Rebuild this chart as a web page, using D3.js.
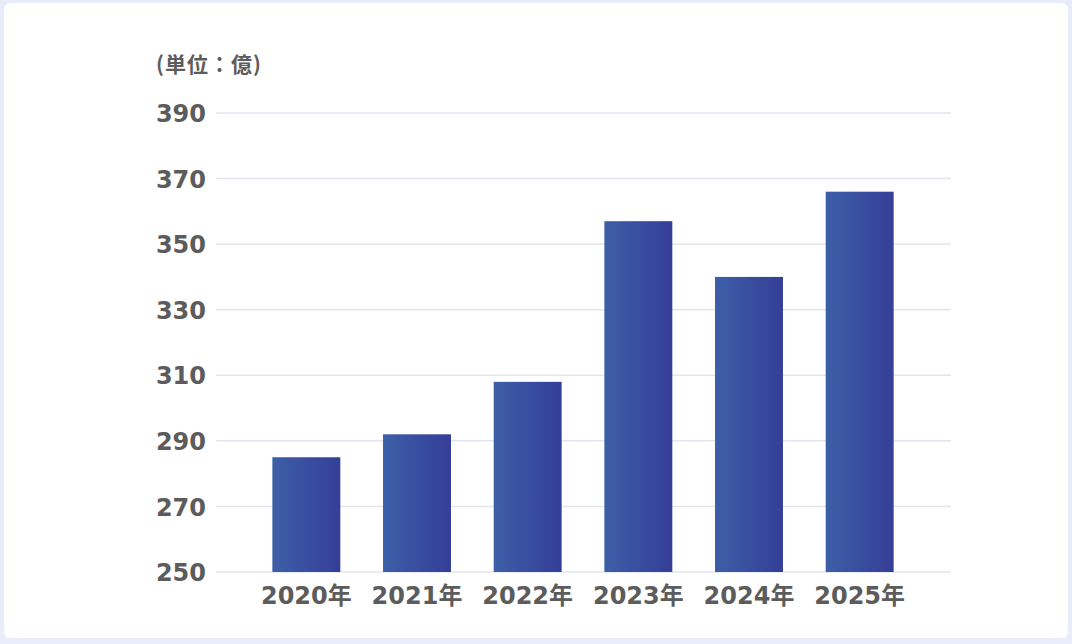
<!DOCTYPE html>
<html>
<head>
<meta charset="utf-8">
<script src="https://d3js.org/d3.v7.min.js"></script>
<style>
  html, body { margin: 0; padding: 0; background: #e9ecfb; }
  svg { display: block; }
  .tick text { font-family: "DejaVu Sans", "Noto Sans CJK JP", sans-serif; font-weight: 700; fill: #5c5c5c; }
</style>
</head>
<body>
<svg id="chart" width="1072" height="644"></svg>
<script>
var years = ["2020年", "2021年", "2022年", "2023年", "2024年", "2025年"];
var values = [285, 292, 308, 357, 340, 366];
var yTicks = [250, 270, 290, 310, 330, 350, 370, 390];
var unitLabel = "(単位：億)";

var svg = d3.select("#chart");

// white card
svg.append("rect").attr("x", 4).attr("y", 3).attr("width", 1064).attr("height", 635)
  .attr("rx", 6).attr("fill", "#ffffff");

var grad = svg.append("defs").append("linearGradient").attr("id", "barGrad")
  .attr("x1", "0%").attr("x2", "100%").attr("y1", "0%").attr("y2", "0%");
grad.append("stop").attr("offset", "0%").attr("stop-color", "#3d5fa7");
grad.append("stop").attr("offset", "100%").attr("stop-color", "#353e98");

var x = d3.scaleBand().domain(years).range([251, 915]).paddingInner(0.386).paddingOuter(0.193);
var y = d3.scaleLinear().domain([250, 390]).range([572, 113]);

// grid lines
svg.append("g").selectAll("line").data(yTicks).enter().append("line")
  .attr("x1", 216).attr("x2", 951)
  .attr("y1", function(d){ return y(d); }).attr("y2", function(d){ return y(d); })
  .attr("stroke", "#e2e6ee").attr("stroke-width", 1.5);

// y axis
var yAxis = svg.append("g").attr("transform", "translate(206,0)")
  .call(d3.axisLeft(y).tickValues(yTicks).tickSize(0).tickPadding(0));
yAxis.select(".domain").remove();
yAxis.selectAll("text").attr("font-size", 24).attr("dy", "0.36em");

// bars
svg.append("g").selectAll("rect").data(values).enter().append("rect")
  .attr("x", function(d, i){ return x(years[i]); })
  .attr("y", function(d){ return y(d); })
  .attr("width", x.bandwidth())
  .attr("height", function(d){ return y(250) - y(d); })
  .attr("fill", "url(#barGrad)");

// x axis
var xAxis = svg.append("g").attr("transform", "translate(0,572)")
  .call(d3.axisBottom(x).tickSize(0).tickPadding(15));
xAxis.select(".domain").remove();
xAxis.selectAll("text").attr("font-size", 24);

// unit label
svg.append("text").attr("x", 156).attr("y", 72).text(unitLabel)
  .attr("font-family", "'Noto Sans CJK JP', sans-serif").attr("font-weight", 700)
  .attr("font-size", 21).attr("letter-spacing", 1).attr("fill", "#5c5c5c");
</script>
</body>
</html>
